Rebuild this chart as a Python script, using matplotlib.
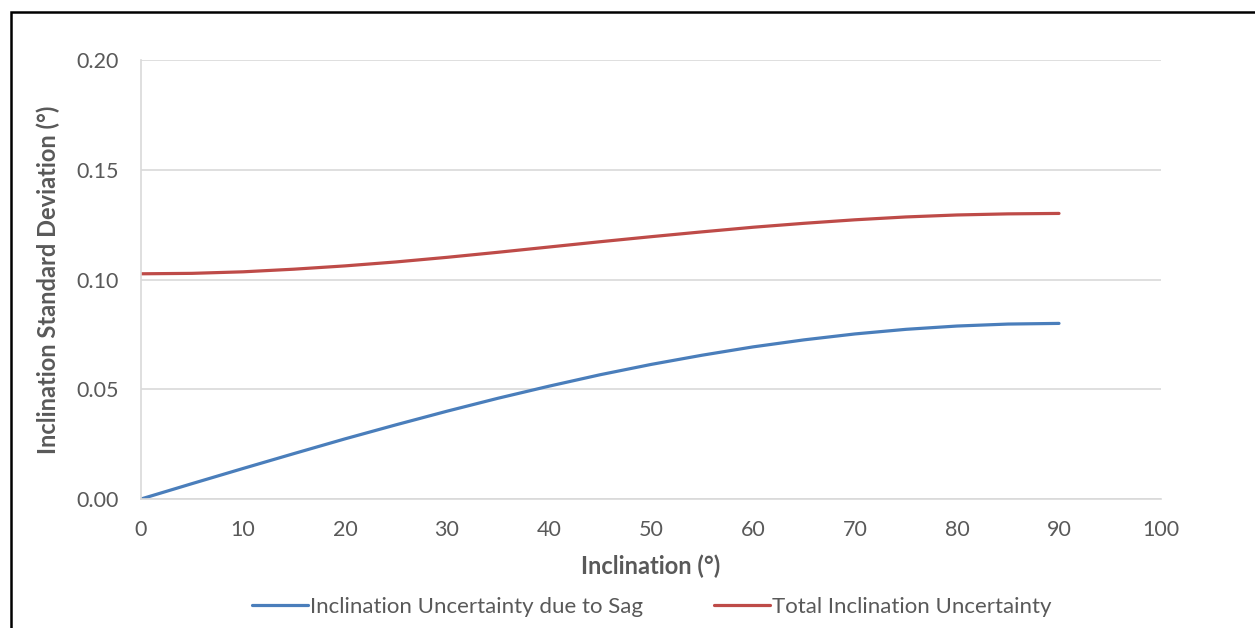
import matplotlib
matplotlib.use("Agg")
import matplotlib.pyplot as plt
from matplotlib.patches import Rectangle

inclination = [0, 5, 10, 15, 20, 25, 30, 35, 40, 45, 50, 55, 60, 65, 70, 75, 80, 85, 90]
sag_uncertainty = [0.0, 0.0070, 0.0139, 0.0207, 0.0274, 0.0338, 0.0400, 0.0459, 0.0514,
                   0.0566, 0.0613, 0.0655, 0.0693, 0.0725, 0.0752, 0.0773, 0.0788, 0.0797, 0.0800]
total_uncertainty = [0.1026, 0.1028, 0.1035, 0.1047, 0.1062, 0.1080, 0.1101, 0.1124, 0.1148,
                     0.1172, 0.1195, 0.1217, 0.1238, 0.1256, 0.1272, 0.1285, 0.1294, 0.1299, 0.1301]
x_ticks = [0, 10, 20, 30, 40, 50, 60, 70, 80, 90, 100]
y_ticks = [0.00, 0.05, 0.10, 0.15, 0.20]
series_names = ["Inclination Uncertainty due to Sag", "Total Inclination Uncertainty"]

plt.rcParams['font.family'] = ['Lato', 'DejaVu Sans']
text_color = '#595959'
grid_color = '#d9d9d9'

fig = plt.figure(figsize=(12.55, 6.28), dpi=100)
ax = fig.add_axes([141/1255, 1-499/628, (1161-141)/1255, (499-60)/628])

ax.plot(inclination, sag_uncertainty, color='#4a7ebb', lw=2.3, label=series_names[0], solid_capstyle='round')
ax.plot(inclination, total_uncertainty, color='#be4b48', lw=2.3, label=series_names[1], solid_capstyle='round')

ax.set_xlim(0, 100)
ax.set_ylim(0, 0.20)
ax.set_xticks(x_ticks)
ax.set_yticks(y_ticks)
ax.set_yticklabels([f"{v:.2f}" for v in y_ticks])
ax.yaxis.grid(True, color=grid_color, lw=1.2)
ax.set_axisbelow(True)
for s in ['top', 'right']:
    ax.spines[s].set_visible(False)
for s in ['left', 'bottom']:
    ax.spines[s].set_color(grid_color)
    ax.spines[s].set_linewidth(1.2)
ax.tick_params(length=0, colors=text_color, labelsize=15.5)
ax.tick_params(axis='x', pad=15)
ax.tick_params(axis='y', pad=16)

ax.set_xlabel("Inclination (°)", fontsize=17, fontweight='bold', color=text_color)
ax.set_ylabel("Inclination Standard Deviation (°)", fontsize=17, fontweight='bold', color=text_color)
ax.xaxis.set_label_coords(0.5, (499-566)/439)
ax.xaxis.label.set_va('center')
ax.yaxis.set_label_coords((48-141)/1020, 0.5)
ax.yaxis.label.set_va('center')

leg = fig.legend(loc='center', bbox_to_anchor=(652/1255, 1-607/628), ncol=2, frameon=False,
                 fontsize=16, handlelength=2.5, handletextpad=0.1, columnspacing=3.2)
for t in leg.get_texts():
    t.set_color(text_color)

fig.patches.append(Rectangle((10.5/1255, -0.1), 1.2, 1-11.5/628+0.1, transform=fig.transFigure,
                             fill=False, edgecolor='black', lw=1.8))

fig.savefig("out.png", dpi=100)
